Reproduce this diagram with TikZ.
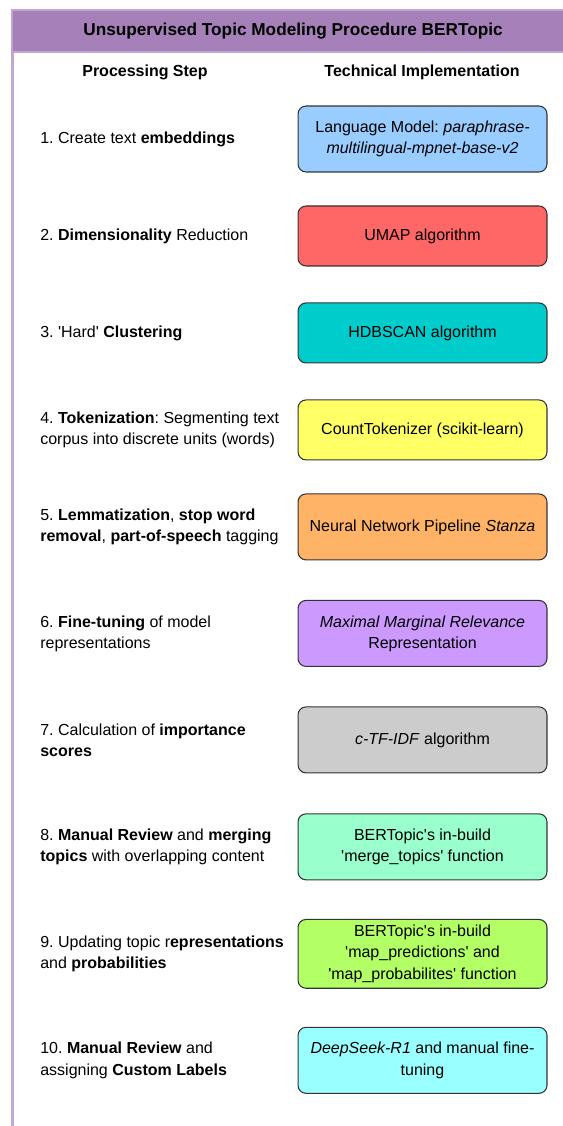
\documentclass[tikz,border=0pt]{standalone}
\usepackage{fontspec}
\setmainfont{Liberation Sans}
\usepackage{xcolor}
\definecolor{headpurple}{HTML}{A680B8}
\definecolor{linepurple}{HTML}{C3A6D4}
\definecolor{embedblue}{HTML}{99CCFF}
\definecolor{umapred}{HTML}{FF6666}
\definecolor{hdbteal}{HTML}{00CCCC}
\definecolor{tokyellow}{HTML}{FFFF66}
\definecolor{lemorange}{HTML}{FFB366}
\definecolor{mmrpurple}{HTML}{CC99FF}
\definecolor{tfidfgray}{HTML}{CCCCCC}
\definecolor{mergemint}{HTML}{99FFCC}
\definecolor{maplime}{HTML}{B3FF66}
\definecolor{labelcyan}{HTML}{99FFFF}
\tikzset{
  implbox/.style={draw=black!80, line width=0.6pt, rounded corners=0.16cm,
    minimum width=4.98cm, minimum height=1.32cm, align=center},
  steptext/.style={anchor=west, align=left, inner sep=0pt},
}
\newcommand{\q}{\textquotesingle}
\frenchspacing

\begin{document}
\begin{tikzpicture}[x=0.02cm, y=-0.02cm, node distance=1.94cm,
    font=\fontsize{9.1}{12}\selectfont]
    \useasboundingbox (0,0) rectangle (563,1126);
    \filldraw[fill=headpurple, draw=linepurple, line width=0.8pt] (12,10) rectangle (566,52);
    \draw[linepurple, line width=1.7pt] (12.5,52) -- (12.5,1126);

    \node[font=\fontsize{9.8}{12}\selectfont\bfseries] (title) at (293,31) {Unsupervised Topic Modeling Procedure BERTopic};
    \node[font=\fontsize{9.1}{12}\selectfont\bfseries] (colstep) at (145,72) {Processing Step};
    \node[font=\fontsize{9.1}{12}\selectfont\bfseries] (colimpl) at (422,72) {Technical Implementation};
    \coordinate (col) at (40,0);

    \node [implbox, fill=embedblue] (embed) at (422.5,139) {Language Model: \textit{paraphrase-}\\\textit{multilingual-mpnet-base-v2}};
    \node [implbox, fill=umapred, minimum height=1.2cm, below of=embed] (umap) {UMAP algorithm};
    \node [implbox, fill=hdbteal, minimum height=1.2cm, below of=umap] (hdbscan) {HDBSCAN algorithm};
    \node [implbox, fill=tokyellow, minimum height=1.2cm, below of=hdbscan] (tokenizer) {CountTokenizer (scikit-learn)};
    \node [implbox, fill=lemorange, below of=tokenizer] (stanza) {Neural Network Pipeline \textit{Stanza}};
    \node [implbox, fill=mmrpurple, node distance=2.13cm, below of=stanza] (mmr) {\textit{Maximal Marginal Relevance}\\Representation};
    \node [implbox, fill=tfidfgray, node distance=2.13cm, below of=mmr] (ctfidf) {\textit{c-TF-IDF} algorithm};
    \node [implbox, fill=mergemint, node distance=2.14cm, below of=ctfidf] (merge) {BERTopic\q s in-build\\\q merge\_topics\q{} function};
    \node [implbox, fill=maplime, node distance=2.14cm, below of=merge] (mapfun) {BERTopic\q s in-build\\\q map\_predictions\q{} and\\\q map\_probabilites\q{} function};
    \node [implbox, fill=labelcyan, node distance=2.13cm, below of=mapfun] (deepseek) {\textit{DeepSeek-R1} and manual fine-\\tuning};

    \node [steptext] (s1) at (col |- embed) {1. Create text \textbf{embeddings}};
    \node [steptext] (s2) at (col |- umap) {2. \textbf{Dimensionality} Reduction};
    \node [steptext] (s3) at (col |- hdbscan) {3. \q Hard\q{} \textbf{Clustering}};
    \node [steptext] (s4) at (col |- tokenizer) {4. \textbf{Tokenization}: Segmenting text\\corpus into discrete units (words)};
    \node [steptext] (s5) at (col |- stanza) {5. \textbf{Lemmatization}, \textbf{stop word}\\\textbf{removal}, \textbf{part-of-speech} tagging};
    \node [steptext] (s6) at (col |- mmr) {6. \textbf{Fine-tuning} of model\\representations};
    \node [steptext] (s7) at (col |- ctfidf) {7. Calculation of \textbf{importance}\\\textbf{scores}};
    \node [steptext] (s8) at (col |- merge) {8. \textbf{Manual Review} and \textbf{merging}\\\textbf{topics} with overlapping content};
    \node [steptext] (s9) at (col |- mapfun) {9. Updating topic r\textbf{epresentations}\\and \textbf{probabilities}};
    \node [steptext] (s10) at (col |- deepseek) {10. \textbf{Manual Review} and\\assigning \textbf{Custom Labels}};
\end{tikzpicture}
\end{document}
